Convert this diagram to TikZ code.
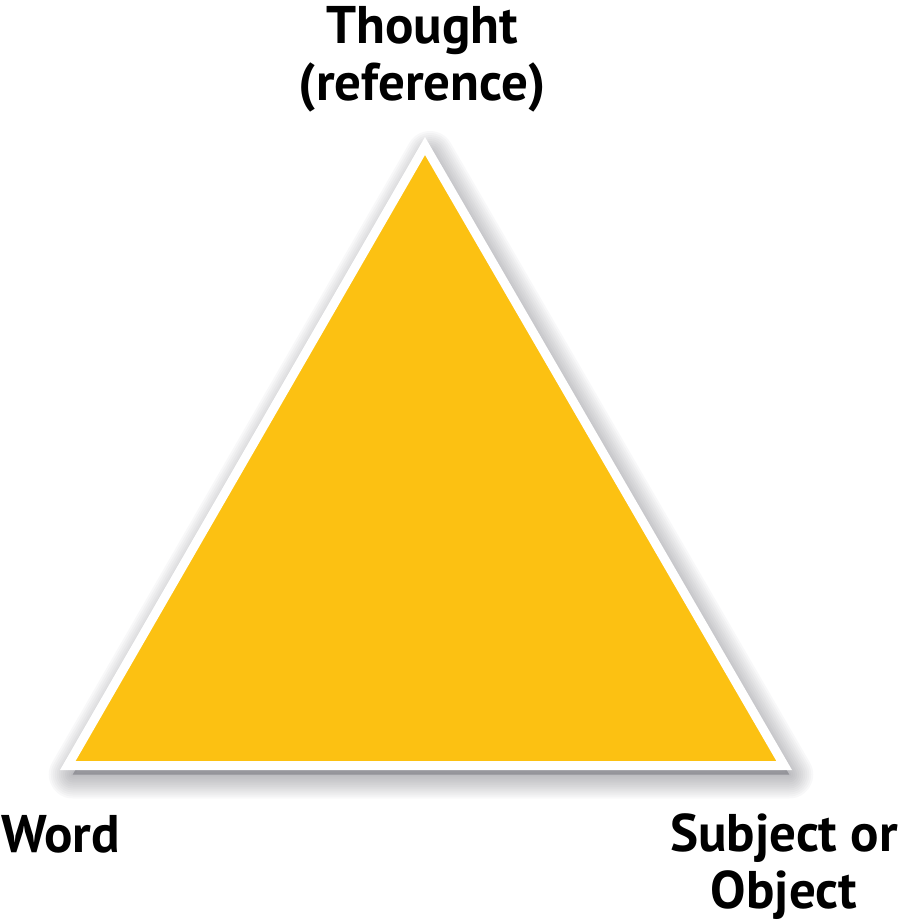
\documentclass[tikz,border=0pt]{standalone}
\usepackage{fontspec}
\setmainfont{PT Sans}
\usetikzlibrary{calc}
\definecolor{triyellow}{RGB}{252,193,18}
\definecolor{shadegray}{RGB}{70,70,80}
\tikzset{
  label text/.style={font=\bfseries\fontsize{53}{57}\selectfont,inner sep=0pt,align=center},
  tri edge/.style={draw=white,line width=9pt,line join=miter}
}
\begin{document}
\begin{tikzpicture}[x=1pt,y=-1pt]
\useasboundingbox (0,0) rectangle (899,924);
%corners
\coordinate (top) at (425,146);
\coordinate (left) at (67.8,765.5);
\coordinate (right) at (784.2,765.5);
%shadow
\foreach \w in {48,44,...,4}
  \fill[shadegray,opacity=0.035,line join=round,draw=shadegray,line width=\w pt]
    ($(top)+(5,9)$) -- ($(left)+(5,9)$) -- ($(right)+(5,9)$) -- cycle;
%triangle
\draw[tri edge,fill=triyellow] (top) -- (left) -- (right) -- cycle;
%labels
\node[label text,anchor=north] (thought) at (422,6) {Thought\\(reference)};
\node[label text,anchor=base west] (word) at (1,852) {Word};
\node[label text,anchor=north] (subject) at (784,813) {Subject or\\Object};
\end{tikzpicture}
\end{document}
